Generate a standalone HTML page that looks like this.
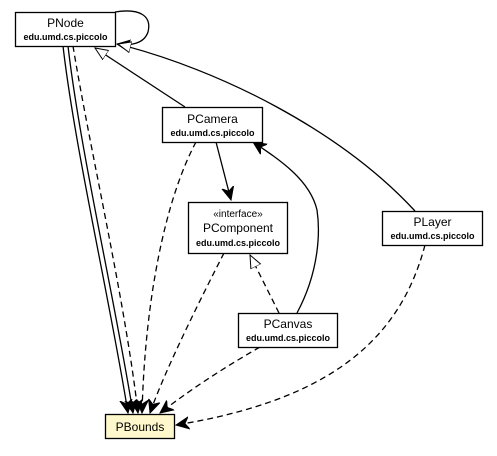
<!DOCTYPE html>
<html><head><meta charset="utf-8"><style>
html,body{margin:0;padding:0;background:#fff;}
svg{display:block;font-family:"Liberation Sans",sans-serif;}
.p{font-weight:600;}
</style></head><body>
<svg width="497" height="456" viewBox="0 0 497 456" xmlns="http://www.w3.org/2000/svg">
<defs>
<marker id="open" viewBox="0 0 14 14" refX="13" refY="7" markerWidth="14" markerHeight="14" markerUnits="userSpaceOnUse" orient="auto">
<path d="M0,1 L13,7 L0,13 L4,7 Z" fill="#000" stroke="#000" stroke-width="1"/></marker>
<marker id="tri" viewBox="0 0 14 14" refX="13" refY="7" markerWidth="14" markerHeight="14" markerUnits="userSpaceOnUse" orient="auto">
<path d="M0,1.5 L13,7 L0,12.5 Z" fill="#fff" stroke="#000" stroke-width="1"/></marker>
</defs>
<g fill="none" stroke="#000" stroke-width="1.3">
<path d="M115,12 C140,8 152,16 148,32 C144,44 130,46 117,44" marker-end="url(#open)"/>
<path d="M185,107 L95,48" marker-end="url(#tri)"/>
<path d="M415,211 C340,130 220,70 118,44" marker-end="url(#tri)"/>
<path d="M63,46 C75,150 110,300 128,413" marker-end="url(#open)"/>
<path d="M68,46 C80,150 115,300 133,413" marker-end="url(#open)"/>
<path d="M73,46 C90,150 125,300 138,413" stroke-dasharray="6,4" marker-end="url(#open)"/>
<path d="M216,142 L231,200" marker-end="url(#open)"/>
<path d="M196,142 C165,200 145,300 142,413" stroke-dasharray="6,4" marker-end="url(#open)"/>
<path d="M224,253 C200,300 165,370 150,413" stroke-dasharray="6,4" marker-end="url(#open)"/>
<path d="M279,313 L250,255" stroke-dasharray="6,4" marker-end="url(#tri)"/>
<path d="M297,313 C320,270 320,230 317,210 C310,180 280,160 253,142" marker-end="url(#open)"/>
<path d="M260,347 C220,370 190,390 160,413" stroke-dasharray="6,4" marker-end="url(#open)"/>
<path d="M425,245 C400,340 330,400 176,425" stroke-dasharray="6,4" marker-end="url(#open)"/>
</g>
<g stroke="#000" stroke-width="1.3" fill="#fff">
<rect x="15.5" y="12.5" width="100" height="34"/>
<rect x="162.5" y="107.5" width="100" height="35"/>
<rect x="188.5" y="202.5" width="99" height="51"/>
<rect x="382.5" y="211.5" width="100" height="34"/>
<rect x="238.5" y="313.5" width="99" height="34"/>
<rect x="105.5" y="414.5" width="69" height="24" fill="#fff8cc"/>
</g>
<g text-anchor="middle" fill="#000">
<text x="65.5" y="27" font-size="12">PNode</text>
<text class="p" x="65.5" y="40" font-size="9">edu.umd.cs.piccolo</text>
<text x="212.5" y="123" font-size="12">PCamera</text>
<text class="p" x="212.5" y="136" font-size="9">edu.umd.cs.piccolo</text>
<text x="238" y="217" font-size="10">«interface»</text>
<text x="238" y="232" font-size="12">PComponent</text>
<text class="p" x="238" y="246" font-size="9">edu.umd.cs.piccolo</text>
<text x="432.5" y="226" font-size="12">PLayer</text>
<text class="p" x="432.5" y="239" font-size="9">edu.umd.cs.piccolo</text>
<text x="288" y="328" font-size="12">PCanvas</text>
<text class="p" x="288" y="341" font-size="9">edu.umd.cs.piccolo</text>
<text x="140" y="431" font-size="12">PBounds</text>
</g>
</svg>
</body></html>
